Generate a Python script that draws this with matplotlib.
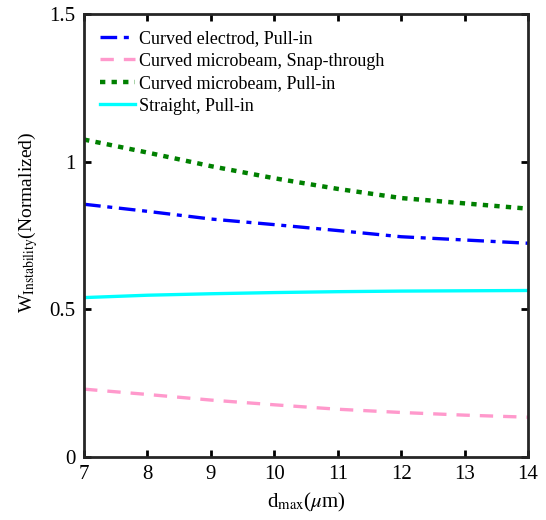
import matplotlib
matplotlib.use("Agg")
import matplotlib.pyplot as plt

plt.rcParams['font.family'] = ['Liberation Serif', 'DejaVu Serif']
plt.rcParams['mathtext.fontset'] = 'stix'

# data
d_max = [7, 8, 9, 10, 11, 12, 13, 14]
curved_electrode_pullin = [0.856, 0.832, 0.806, 0.787, 0.767, 0.746, 0.735, 0.724]
curved_beam_snap = [0.230, 0.212, 0.193, 0.177, 0.162, 0.151, 0.142, 0.135]
curved_beam_pullin = [1.075, 1.031, 0.985, 0.944, 0.908, 0.877, 0.859, 0.841]
straight_pullin = [0.540, 0.548, 0.553, 0.557, 0.560, 0.562, 0.563, 0.564]

fig = plt.figure(figsize=(5.46, 5.2), dpi=100)
ax = fig.add_axes([0.154, 0.121, 0.813, 0.852])

ax.plot(d_max, curved_electrode_pullin, color="blue", linestyle=(0, (5, 2, 1.5, 2)), linewidth=2.4,
        label="Curved electrod, Pull-in")
ax.plot(d_max, curved_beam_snap, color="#ff99cc", linestyle=(0, (4, 3)), linewidth=2.4,
        label="Curved microbeam, Snap-through")
ax.plot(d_max, curved_beam_pullin, color="green", linestyle=(0, (1.2, 1.4)), linewidth=3.2,
        label="Curved microbeam, Pull-in")
ax.plot(d_max, straight_pullin, color="cyan", linestyle="-", linewidth=2.4,
        label="Straight, Pull-in")

ax.set_xlim(7, 14)
ax.set_ylim(0, 1.5)
ax.set_xticks(range(7, 15))
ax.set_yticks([0, 0.5, 1, 1.5])
ax.set_yticklabels(["0", "0.5", "1", "1.5"])
ax.tick_params(direction="in", top=True, right=True, labelsize=15, width=2, length=5, pad=6)
for s in ax.spines.values():
    s.set_linewidth(2)
    s.set_color("#262626")

ax.set_xlabel(r"d$_{\mathrm{max}}$($\mu$m)", fontsize=15, labelpad=5)
ax.set_ylabel(r"W$_{\mathrm{Instability}}$(Normalized)", fontsize=14)
ax.yaxis.set_label_coords(-0.1, 0.53)

ax.legend(loc="upper left", frameon=False, fontsize=13, handlelength=1.9,
          handletextpad=0.25, labelspacing=0.3, borderaxespad=0.5)

plt.savefig("out.png", dpi=100)
